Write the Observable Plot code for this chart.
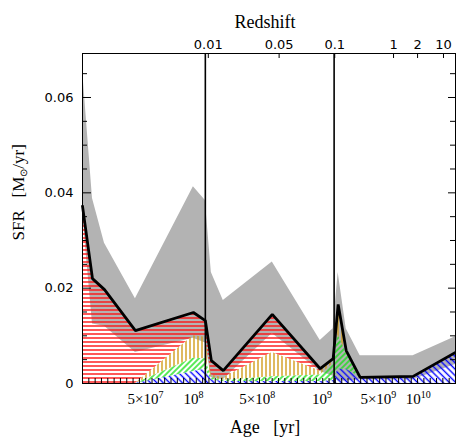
<!DOCTYPE html>
<html><head><meta charset="utf-8">
<script src="https://cdn.jsdelivr.net/npm/d3@7"></script>
<script src="https://cdn.jsdelivr.net/npm/@observablehq/plot@0.6"></script>
<style>body{margin:0;background:#fff} svg{display:block}</style>
</head><body><div id="chart"></div>
<script>
// x position of each age bin on the (uniformly ticked) age axis
const binU = [0, 1.58, 3.48, 8.37, 17.54, 19.43, 20.38, 22.27, 30.02, 37.6, 39.65, 40.44, 41.71, 43.92, 52.29, 59];
// total SFR (black line)
const totalSFR = [0.0372, 0.0220, 0.0197, 0.0111, 0.0149, 0.0132, 0.0048, 0.0027, 0.0145, 0.0031, 0.0052, 0.0166, 0.0069, 0.0013, 0.0015, 0.0065];
// grey uncertainty envelope
const upperSFR = [0.0660, 0.0388, 0.0294, 0.0178, 0.0413, 0.0384, 0.0233, 0.0174, 0.0255, 0.0090, 0.0115, 0.0233, 0.0115, 0.0058, 0.0058, 0.0098];
const lowerSFR = [0.0360, 0.0125, 0.0120, 0.0065, 0.0095, 0.0085, 0.0012, 0.0008, 0.0105, 0.0025, 0.0015, 0.0005, 0.0005, 0.0008, 0.0008, 0.0040];
// stacked components (hatched)
const blueSFR   = [0, 0, 0, 0, 0.0025, 0.0030, 0.0008, 0.0004, 0.0004, 0.0004, 0.0006, 0.0030, 0.0030, 0.0013, 0.0015, 0.0065];
const greenSFR  = [0, 0, 0, 0, 0.0028, 0.0022, 0.0005, 0.0003, 0.0010, 0.0014, 0.0036, 0.0072, 0.0034, 0, 0, 0];
const orangeSFR = [0, 0, 0, 0, 0.0047, 0.0045, 0.0005, 0.0005, 0.0051, 0.0008, 0.0008, 0.0056, 0.0005, 0, 0, 0];
const redSFR    = [0.0372, 0.0220, 0.0197, 0.0111, 0.0049, 0.0035, 0.0030, 0.0015, 0.0080, 0.0005, 0.0002, 0.0008, 0, 0, 0, 0];

const ageTickU = [9.95, 17.54, 27.65, 37.9, 46.8, 53.1];
const ageTickLabels = ["5×10⁷", "10⁸", "5×10⁸", "10⁹", "5×10⁹", "10¹⁰"];
const zTickU = [19.9, 31.1, 39.9, 49.2, 53.0, 57.1];
const zTickLabels = ["0.01", "0.05", "0.1", "1", "2", "10"];
const zLineU = [19.43, 39.8];
const yMajor = [0, 0.02, 0.04, 0.06];
const yMinor = [0.005, 0.01, 0.015, 0.025, 0.03, 0.035, 0.045, 0.05, 0.055, 0.065];
const xMinor = d3.range(1, 59);

const comps = [
  {name: "blue", values: blueSFR, pat: "url(#hatchBlue)"},
  {name: "green", values: greenSFR, pat: "url(#hatchGreen)"},
  {name: "orange", values: orangeSFR, pat: "url(#hatchOrange)"},
  {name: "red", values: redSFR, pat: "url(#hatchRed)"}
];
const compRows = comps.flatMap(c => binU.map((u, i) => ({u, sfr: c.values[i], comp: c.name, pat: c.pat})));
const rows = binU.map((u, i) => ({u, total: totalSFR[i], lo: lowerSFR[i], hi: upperSFR[i]}));

const W = 456, H = 442, mL = 82, mR = 1, mT = 53, mB = 59;
const pw = W - mL - mR, ph = H - mT - mB;
const sans = "DejaVu Sans";
const serif = "Liberation Serif";

const svg = Plot.plot({
  width: W, height: H,
  marginLeft: mL, marginRight: mR, marginTop: mT, marginBottom: mB,
  x: {domain: [0, 59], axis: null},
  y: {domain: [0, 0.06923], axis: null},
  color: {type: "identity"},
  style: {background: "white", color: "black", overflow: "visible"},
  marks: [
    Plot.areaY(rows, {x: "u", y1: "lo", y2: "hi", fill: "#b3b3b3"}),
    Plot.areaY(compRows, {x: "u", y: "sfr", z: "comp", fill: "pat", order: ["blue", "green", "orange", "red"]}),
    Plot.ruleX(zLineU, {stroke: "black", strokeWidth: 1.6}),
    Plot.lineY(rows, {x: "u", y: "total", stroke: "black", strokeWidth: 2.8, strokeLinejoin: "miter"}),
    Plot.frame({stroke: "black", strokeWidth: 1}),
    // ticks (inward)
    Plot.ruleY(yMajor, {insetRight: pw - 9, stroke: "black"}),
    Plot.ruleY(yMinor, {insetRight: pw - 5, stroke: "black"}),
    Plot.ruleY(yMajor, {insetLeft: pw - 7, stroke: "black"}),
    Plot.ruleY(yMinor, {insetLeft: pw - 5, stroke: "black"}),
    Plot.ruleX(xMinor, {insetTop: ph - 5, stroke: "black"}),
    Plot.ruleX(zTickU, {insetBottom: ph - 5, stroke: "black"}),
    // tick labels
    Plot.text(yMajor, {y: d => d, text: d => d === 0 ? "0" : d.toFixed(2), frameAnchor: "left", textAnchor: "end", dx: -9, fontFamily: sans, fontSize: 13}),
    Plot.text(ageTickU, {x: d => d, text: (d, i) => ageTickLabels[i], frameAnchor: "bottom", lineAnchor: "top", dy: 10, fontFamily: serif, fontSize: 15}),
    Plot.text(zTickU, {x: d => d, text: (d, i) => zTickLabels[i], frameAnchor: "top", lineAnchor: "bottom", dy: -5, fontFamily: sans, fontSize: 13}),
    // axis titles
    Plot.text(["Redshift"], {frameAnchor: "top", dx: -4, dy: -38, fontFamily: serif, fontSize: 18}),
    Plot.text(["Age   [yr]"], {frameAnchor: "bottom", dx: -4, dy: 49, fontFamily: serif, fontSize: 18}),
    Plot.text(["SFR   [M⊙/yr]"], {frameAnchor: "left", rotate: -90, dx: -64, dy: 22, fontFamily: serif, fontSize: 17})
  ]
});

// typographic touches: subscript solar symbol, raised exponents
const supMap = {"⁰":"0","¹":"1","²":"2","³":"3","⁴":"4","⁵":"5","⁶":"6","⁷":"7","⁸":"8","⁹":"9"};
d3.select(svg).selectAll("text").each(function() {
  const t = this.textContent;
  const el = d3.select(this);
  if (t.includes("⊙") && t.startsWith("SFR")) {
    const [a, b] = t.split("⊙");
    el.text(null);
    el.append("tspan").text(a);
    el.append("tspan").attr("font-size", 10).attr("dy", 3).text("⊙");
    el.append("tspan").attr("dy", -3).text(b);
  } else if (/[⁰¹²³⁴⁵⁶⁷⁸⁹]/.test(t) && !el.selectAll("tspan").size()) {
    const m = t.match(/^([^⁰¹²³⁴⁵⁶⁷⁸⁹]*)([⁰¹²³⁴⁵⁶⁷⁸⁹]+)$/);
    if (m) {
      el.text(null);
      el.append("tspan").text(m[1]);
      el.append("tspan").attr("font-size", 10).attr("dy", -6)
        .text([...m[2]].map(c => supMap[c]).join(""));
    }
  }
});

// hatch patterns
const defs = d3.select(svg).insert("defs", ":first-child");
function pattern(id, color, angle, sw, size) {
  const p = defs.append("pattern").attr("id", id)
    .attr("patternUnits", "userSpaceOnUse")
    .attr("width", size).attr("height", size)
    .attr("patternTransform", `rotate(${angle})`);
  p.append("line").attr("x1", size / 2).attr("y1", -1).attr("x2", size / 2).attr("y2", size + 1)
    .attr("stroke", color).attr("stroke-width", sw);
}
pattern("hatchRed", "#ff1010", 90, 1.4, 4);
pattern("hatchOrange", "#d19c1a", 0, 1.4, 4);
pattern("hatchGreen", "#10e010", 45, 1.4, 4);
pattern("hatchBlue", "#0000ff", -45, 1.4, 4.5);

document.getElementById("chart").appendChild(svg);
</script>
</body></html>
